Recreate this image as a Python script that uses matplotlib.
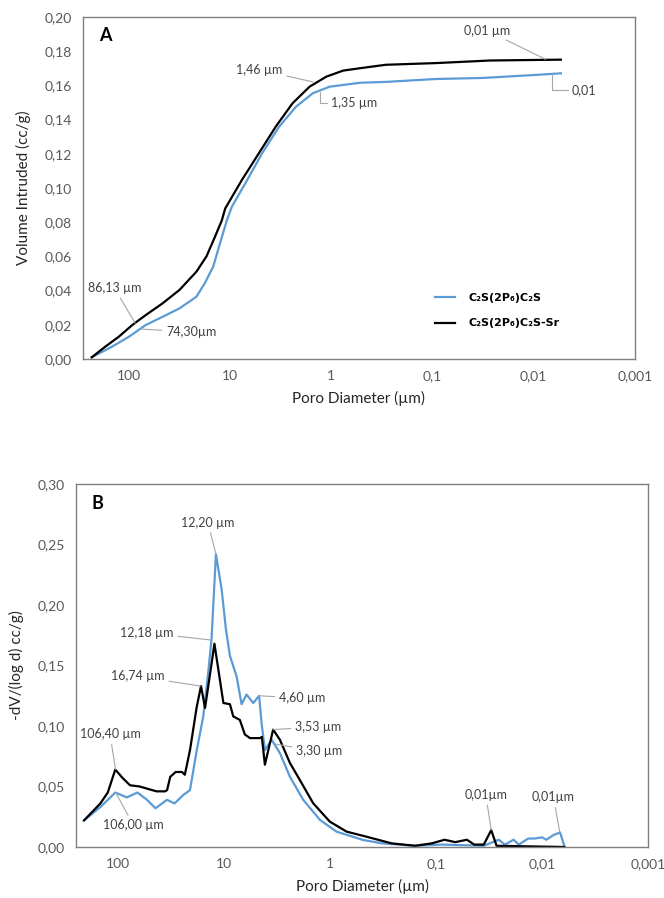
import numpy as np
import matplotlib.pyplot as plt

# Panel A - cumulative intrusion (diameter in um, volume in cc/g)
a_sr_d = [231, 170, 125, 91.8, 67.6, 46.0, 31.4, 21.4, 17.0, 14.0, 12.0, 11.1, 7.59, 5.16,
          3.52, 2.40, 1.63, 1.11, 0.759, 0.516, 0.288, 0.0912, 0.0269, 0.00537]
a_sr_v = [0.001, 0.0072, 0.013, 0.0199, 0.0257, 0.0326, 0.0404, 0.051, 0.060, 0.0715, 0.081,
          0.088, 0.1047, 0.1203, 0.1358, 0.1495, 0.1592, 0.1651, 0.1686, 0.170, 0.172, 0.173,
          0.1745, 0.175]
a_c2s_d = [231, 146, 99.3, 67.6, 46.0, 31.4, 21.4, 17.7, 14.6, 12.5, 10.7, 9.55, 7.03, 4.79,
           3.26, 2.22, 1.51, 1.03, 0.516, 0.288, 0.0912, 0.0316, 0.01, 0.00537]
a_c2s_v = [0.001, 0.0072, 0.013, 0.0199, 0.0247, 0.0296, 0.0364, 0.0442, 0.054, 0.0676, 0.081,
           0.089, 0.1027, 0.1203, 0.1358, 0.1475, 0.1554, 0.1592, 0.1615, 0.162, 0.1637,
           0.1643, 0.166, 0.167]

# Panel B - differential intrusion -dV/dlog(d)
b_sr_d = [211, 148, 126, 107, 91.2, 77.6, 63.1, 52.5, 43.7, 36.3, 34.7, 32.4, 28.8, 25.1,
          23.6, 21.1, 18.2, 16.6, 15.2, 13.9, 12.4, 11.0, 10.2, 8.85, 8.24, 7.13, 6.40, 5.73,
          4.61, 4.42, 4.14, 3.46, 2.99, 2.40, 1.94, 1.45, 1.01, 0.701, 0.455, 0.263, 0.158,
          0.110, 0.0832, 0.0661, 0.0513, 0.0437, 0.0355, 0.0302, 0.0269, 0.00617]
b_sr_v = [0.022, 0.036, 0.045, 0.064, 0.057, 0.051, 0.050, 0.048, 0.046, 0.046, 0.047, 0.058,
          0.062, 0.062, 0.0597, 0.080, 0.116, 0.133, 0.115, 0.138, 0.168, 0.138, 0.119, 0.118,
          0.108, 0.105, 0.093, 0.090, 0.090, 0.091, 0.068, 0.097, 0.0887, 0.0694, 0.0555,
          0.0362, 0.021, 0.0127, 0.0085, 0.003, 0.001, 0.003, 0.006, 0.004, 0.006, 0.002,
          0.002, 0.014, 0.001, 0.0]
b_c2s_d = [211, 148, 107, 83.2, 66.1, 53.7, 44.7, 34.7, 29.5, 24.4, 21.1, 18.2, 15.8, 14.2,
           13.2, 12.0, 10.6, 9.66, 8.85, 7.66, 6.87, 6.17, 5.33, 4.69, 4.45, 4.14, 3.58, 2.99,
           2.40, 1.80, 1.25, 0.873, 0.490, 0.324, 0.158, 0.0891, 0.0355, 0.0257, 0.0224,
           0.0186, 0.0166, 0.0135, 0.0117, 0.01, 0.00912, 0.00776, 0.00676, 0.00617]
b_c2s_v = [0.022, 0.033, 0.045, 0.041, 0.045, 0.039, 0.032, 0.039, 0.036, 0.043, 0.047, 0.080,
           0.108, 0.144, 0.172, 0.242, 0.213, 0.180, 0.158, 0.141, 0.118, 0.126, 0.119, 0.125,
           0.1025, 0.080, 0.0887, 0.0777, 0.058, 0.039, 0.0224, 0.0127, 0.0058, 0.003, 0.001,
           0.002, 0.001, 0.006, 0.002, 0.006, 0.002, 0.007, 0.007, 0.008, 0.006, 0.010, 0.012,
           0.001]

x_ticks = [100, 10, 1, 0.1, 0.01, 0.001]
x_labels = ["100", "10", "1", "0,1", "0,01", "0,001"]

BLUE = "#5B9BD5"
GREY = "#595959"
plt.rcParams["font.family"] = ["Lato", "DejaVu Sans"]


def style_axes(ax, ylim, ystep, xleft):
    ax.set_xscale("log")
    ax.set_xlim(xleft, 0.001)
    ax.set_ylim(*ylim)
    ax.set_xticks(x_ticks)
    ax.set_xticklabels(x_labels)
    ax.minorticks_off()
    yt = np.arange(ylim[0], ylim[1] + 1e-9, ystep)
    ax.set_yticks(yt)
    ax.set_yticklabels([f"{v:.2f}".replace(".", ",") for v in yt])
    ax.tick_params(length=0, labelsize=10, labelcolor=GREY, pad=8)
    for s in ax.spines.values():
        s.set_color("#7f7f7f")
        s.set_linewidth(1.0)


def note(ax, text, xy, xytext, ha="center", conn=None):
    props = dict(arrowstyle="-", color="#a6a6a6", lw=0.8, shrinkA=1, shrinkB=0)
    if conn:
        props["connectionstyle"] = conn
    ax.annotate(text, xy=xy, xytext=xytext, ha=ha, va="center", fontsize=9,
                color="#404040", arrowprops=props)


fig = plt.figure(figsize=(6.64, 8.98), dpi=100)

# ---- Panel A ----
ax1 = fig.add_axes([0.125, 0.6002, 0.831, 0.381])
ax1.plot(a_c2s_d, a_c2s_v, color=BLUE, lw=1.6, label="C₂S(2P₆)C₂S")
ax1.plot(a_sr_d, a_sr_v, color="black", lw=1.6, label="C₂S(2P₆)C₂S-Sr")
style_axes(ax1, (0, 0.20), 0.02, 10 ** 2.45)
ax1.set_ylabel("Volume Intruded (cc/g)", fontsize=11, color="#262626", labelpad=10)
ax1.set_xlabel("Poro Diameter (µm)", fontsize=11, color="#262626", labelpad=6)
ax1.text(0.03, 0.93, "A", transform=ax1.transAxes, fontsize=13, fontweight="bold")
leg = ax1.legend(loc="lower left", bbox_to_anchor=(0.62, 0.06), frameon=False,
                 fontsize=8, handlelength=1.8, labelspacing=1.4, handletextpad=1.2)
for t in leg.get_texts():
    t.set_fontweight("bold")
    t.set_family(["DejaVu Sans"])

note(ax1, "1,46 µm", (1.51, 0.162), (5.1, 0.169))
note(ax1, "1,35 µm", (1.30, 0.156), (1.0, 0.1496), ha="left", conn="angle,angleA=0,angleB=90,rad=0")
note(ax1, "0,01 µm", (0.0076, 0.1752), (0.029, 0.192))
note(ax1, "0,01", (0.0066, 0.1665), (0.0042, 0.157), ha="left", conn="angle,angleA=0,angleB=90,rad=0")
note(ax1, "86,13 µm", (86.13, 0.021), (138, 0.0415))
note(ax1, "74,30µm", (74.3, 0.0175), (42.7, 0.0158), ha="left")

# ---- Panel B ----
ax2 = fig.add_axes([0.1145, 0.0568, 0.8614, 0.4042])
ax2.plot(b_c2s_d, b_c2s_v, color=BLUE, lw=1.6)
ax2.plot(b_sr_d, b_sr_v, color="black", lw=1.6)
style_axes(ax2, (0, 0.30), 0.05, 10 ** 2.4)
ax2.set_ylabel("-dV/(log d) cc/g)", fontsize=11, color="#262626", labelpad=10)
ax2.set_xlabel("Poro Diameter (µm)", fontsize=11, color="#262626", labelpad=6)
ax2.text(0.027, 0.93, "B", transform=ax2.transAxes, fontsize=13, fontweight="bold")

note(ax2, "12,20 µm", (12.0, 0.242), (14.3, 0.268))
note(ax2, "12,18 µm", (13.2, 0.171), (53.7, 0.177))
note(ax2, "16,74 µm", (16.74, 0.133), (65.3, 0.141))
note(ax2, "4,60 µm", (4.69, 0.125), (3.05, 0.123), ha="left")
note(ax2, "3,53 µm", (3.46, 0.097), (2.15, 0.0995), ha="left")
note(ax2, "3,30 µm", (3.3, 0.085), (2.1, 0.079), ha="left")
note(ax2, "106,40 µm", (106.4, 0.064), (120, 0.093))
note(ax2, "106,00 µm", (106, 0.045), (72, 0.018))
note(ax2, "0,01µm", (0.0302, 0.014), (0.034, 0.043))
note(ax2, "0,01µm", (0.0068, 0.012), (0.0078, 0.041))

fig.savefig("out.png", dpi=100, facecolor="white")
